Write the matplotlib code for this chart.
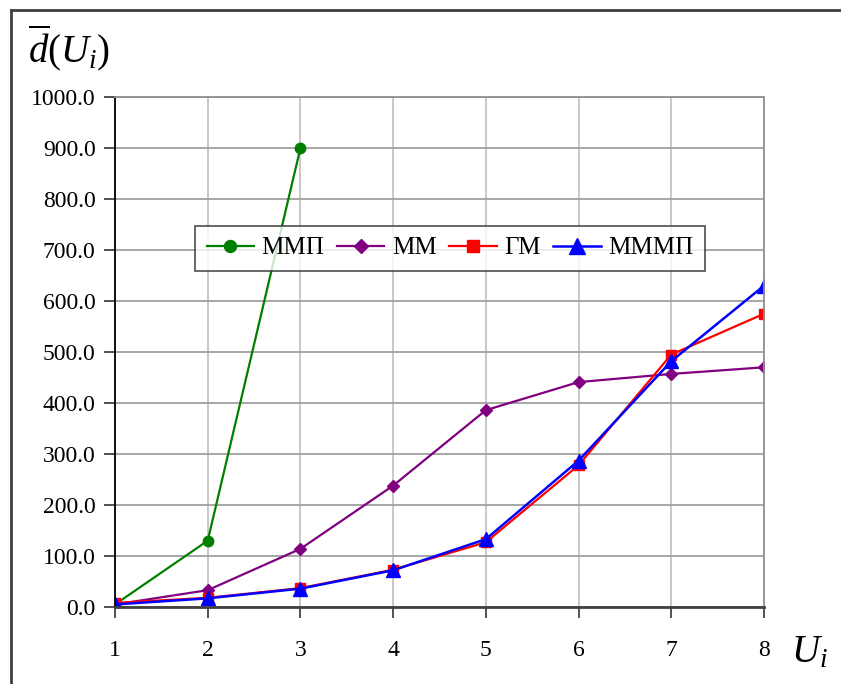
import matplotlib
matplotlib.use("Agg")
import matplotlib.pyplot as plt
from matplotlib.lines import Line2D

plt.rcParams['font.family'] = ['Liberation Serif', 'DejaVu Serif']
plt.rcParams['mathtext.fontset'] = 'custom'
plt.rcParams['mathtext.rm'] = 'Liberation Serif'
plt.rcParams['mathtext.it'] = 'Liberation Serif:italic'

# data
u = [1, 2, 3, 4, 5, 6, 7, 8]
mmp_x = [1, 2, 3]
mmp = [5, 130, 900]
mm = [5, 33, 114, 238, 386, 441, 457, 470]
gm = [8, 18, 37, 73, 127, 278, 495, 575]
mmmp = [5, 17, 36, 72, 133, 287, 482, 630]
labels = ['ММП', 'ММ', 'ГМ', 'МММП']
yticks = [0, 100, 200, 300, 400, 500, 600, 700, 800, 900, 1000]

W, H = 841, 684
fig = plt.figure(figsize=(W / 100, H / 100), dpi=100)
ax = fig.add_axes([115 / W, (H - 607) / H, (764 - 115) / W, (607 - 97) / H])

ax.plot(mmp_x, mmp, color='green', marker='o', ms=7.5, lw=1.6, label=labels[0])
ax.plot(u, mm, color='purple', marker='D', ms=6.5, lw=1.6, label=labels[1])
ax.plot(u, gm, color='red', marker='s', ms=7.5, lw=1.6, label=labels[2])
ax.plot(u, mmmp, color='blue', marker='^', ms=9.5, lw=1.8, label=labels[3])

ax.set_xlim(1, 8)
ax.set_ylim(0, 1000)
ax.set_xticks(u)
ax.set_yticks(yticks)
ax.set_yticklabels([f'{v:.1f}' for v in yticks])
ax.tick_params(labelsize=17, length=8, width=1.2, colors='#333333', labelcolor='black')
ax.tick_params(axis='x', pad=16)
ax.tick_params(axis='y', pad=6)

ax.grid(axis='x', color='#c4c4c4', lw=1.3)
ax.grid(axis='y', color='#a0a0a0', lw=1.3)
ax.set_axisbelow(True)
ax.spines['left'].set_color('black')
ax.spines['left'].set_linewidth(1.3)
ax.spines['bottom'].set_color('#404040')
ax.spines['bottom'].set_linewidth(2)
for s in ('top', 'right'):
    ax.spines[s].set_color('#909090')
    ax.spines[s].set_linewidth(1.3)

leg = ax.legend(loc='center', bbox_to_anchor=((450 - 115) / 649, (607 - 248) / 510),
                ncol=4, fontsize=18, frameon=True, fancybox=False,
                edgecolor='#333333', handlelength=1.9, columnspacing=0.5,
                handletextpad=0.3, borderpad=0.45, borderaxespad=0, markerscale=1.15)
leg.get_frame().set_linewidth(1.3)

fig.text(28 / W, 1 - 62 / H, r'$\overline{d}(U_i)$', fontsize=28, ha='left', va='baseline')
fig.text(791 / W, 1 - 662 / H, r'$U_i$', fontsize=28, ha='left', va='baseline')

# outer frame (top and left edges visible)
fig.add_artist(Line2D([11 / W, 1], [1 - 10 / H, 1 - 10 / H], color='#404040', lw=2))
fig.add_artist(Line2D([11 / W, 11 / W], [0, 1 - 10 / H], color='#404040', lw=2))

fig.savefig('out.png', dpi=100)
